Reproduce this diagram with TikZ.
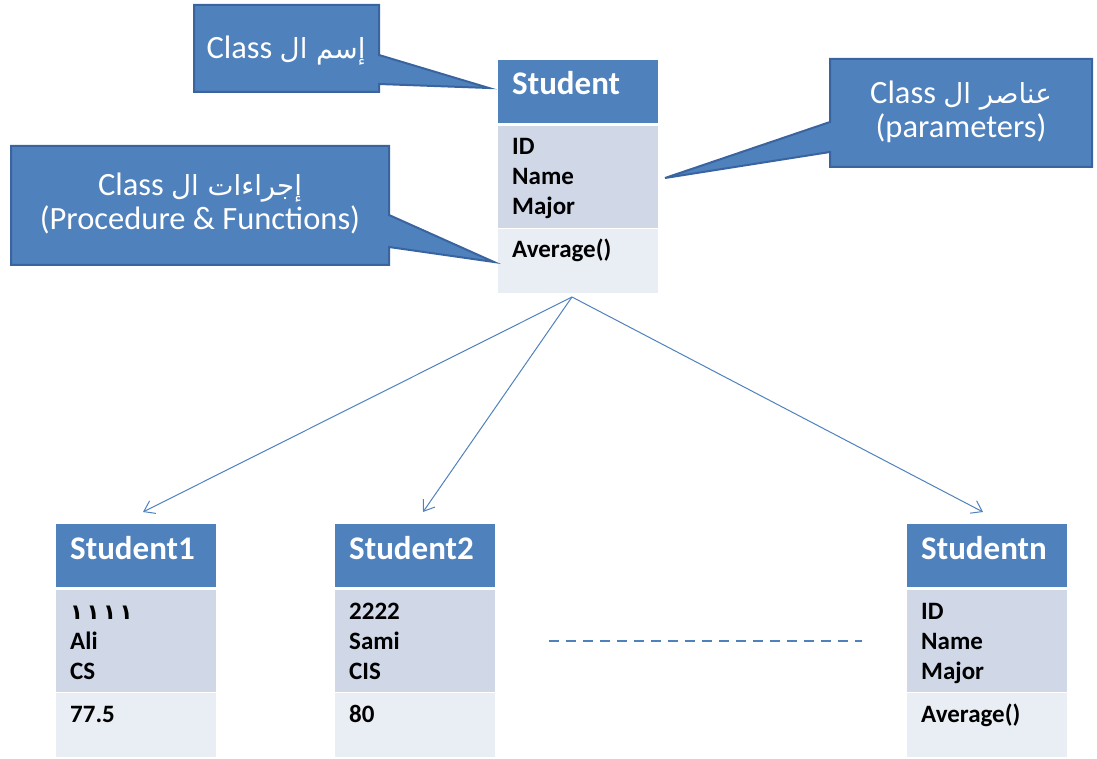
\documentclass[tikz,border=0pt]{standalone}
\usepackage{fontspec}
\setmainfont{Carlito}
\newfontfamily\arabicfont[Script=Arabic,Scale=0.85]{DejaVu Sans}
\TeXXeTstate=1
\usetikzlibrary{arrows.meta}
\definecolor{hdr}{HTML}{4F81BD}
\definecolor{attrc}{HTML}{D0D8E8}
\definecolor{methc}{HTML}{E9EDF4}
\definecolor{cborder}{HTML}{3A64A0}
\definecolor{cfill}{HTML}{4F81BD}
\newcommand\classbox[8]{%
  \node[cell, fill=hdr, minimum height=63pt] (#1-h) at (#2,#3) {};
  \node[cell, fill=attrc, minimum height=102pt] (#1-a) at (#2,#3+66) {};
  \node[cell, fill=methc, minimum height=64pt] (#1-m) at (#2,#3+169) {};
  \node[htext] (#1-t) at (#2+14,#3+35) {#4};
  \node[btext] (#1-a1) at (#2+14,#3+95) {#5};
  \node[btext] (#1-a2) at (#2+14,#3+125) {#6};
  \node[btext] (#1-a3) at (#2+14,#3+155) {#7};
  \node[btext] (#1-m1) at (#2+14,#3+198) {#8};
}
\begin{document}
\begin{tikzpicture}[x=1pt,y=-1pt,
  cell/.style={rectangle, inner sep=0pt, outer sep=0pt, anchor=north west, minimum width=160pt, draw=none},
  htext/.style={anchor=base west, inner sep=0pt, text=white, font=\fontsize{33}{36}\selectfont\bfseries},
  btext/.style={anchor=base west, inner sep=0pt, text=black, font=\fontsize{25}{29}\selectfont\bfseries},
  ctext/.style={anchor=base, inner sep=0pt, text=white, font=\fontsize{32.5}{34}\selectfont},
  callout/.style={fill=cfill, draw=cborder, line width=2pt, line join=miter},
  conn/.style={draw=hdr, line width=1pt, -{Straight Barb[length=10pt,width=14pt,line width=1pt]}},
  dashline/.style={draw=hdr, line width=2.5pt, dash pattern=on 10pt off 7pt}]
\useasboundingbox (0,0) rectangle (1097,759);

% class boxes
\classbox{s}{498}{60}{Student}{ID}{Name}{Major}{Average()}
\classbox{s1}{56}{524}{Student1}{{\arabicfont\bfseries ١\,١\,١\,١}}{Ali}{CS}{77.5}
\classbox{s2}{335}{524}{Student2}{2222}{Sami}{CIS}{80}
\classbox{sn}{907}{524}{Studentn}{ID}{Name}{Major}{Average()}

% callouts
\path[callout] (194,5) -- (379,5) -- (379,55) -- (489,88) -- (379,84) -- (379,92) -- (194,92) -- cycle;
\node[ctext] (c1) at (286,59) {Class {\arabicfont\beginR إسم ال\endR}};

\path[callout] (11,146) -- (389,146) -- (389,215) -- (494,262) -- (389,247) -- (389,265) -- (11,265) -- cycle;
\node[ctext] (c2a) at (200,196) {Class {\arabicfont\beginR إجراءات ال\endR}};
\node[ctext] (c2b) at (200,230) {(Procedure \& Functions)};

\path[callout] (830,59) -- (1092,59) -- (1092,167) -- (830,167) -- (830,152) -- (665,178) -- (830,122) -- cycle;
\node[ctext] (c3a) at (961,104) {Class {\arabicfont\beginR عناصر ال\endR}};
\node[ctext] (c3b) at (961,138) {(parameters)};

% connectors
\coordinate (src) at (572,297);
\coordinate (t1) at (143,512);
\coordinate (t2) at (423,512);
\coordinate (tn) at (983,512);
\draw[conn] (src) -- (t1);
\draw[conn] (src) -- (t2);
\draw[conn] (src) -- (tn);

% dashed ellipsis
\coordinate (d1) at (549,641);
\coordinate (d2) at (862,641);
\draw[dashline] (d1) -- (d2);
\end{tikzpicture}
\end{document}
